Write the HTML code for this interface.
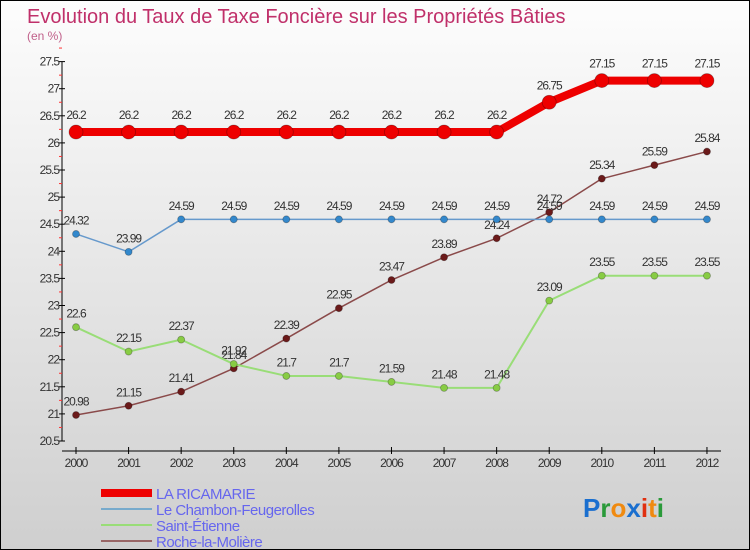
<!DOCTYPE html>
<html><head><meta charset="utf-8"><style>
body{margin:0}
#wrap{width:750px;height:550px;position:relative;box-sizing:border-box;border:1px solid #000;background:linear-gradient(#fdfdfd,#cfcfcf);font-family:"Liberation Sans",sans-serif;overflow:hidden}
svg{position:absolute;left:0;top:0}
</style></head><body>
<div id="wrap">
<svg id="s" width="750" height="550">
<text x="26" y="22" font-size="20" fill="#c0306a">Evolution du Taux de Taxe Foncière sur les Propriétés Bâties</text>
<text x="26" y="39" font-size="12" fill="#c0608a">(en %)</text>
</svg>
</div>
<script>
const years=[2000,2001,2002,2003,2004,2005,2006,2007,2008,2009,2010,2011,2012];
const ricamarie=[26.2,26.2,26.2,26.2,26.2,26.2,26.2,26.2,26.2,26.75,27.15,27.15,27.15];
const chambon=[24.32,23.99,24.59,24.59,24.59,24.59,24.59,24.59,24.59,24.59,24.59,24.59,24.59];
const etienne=[22.6,22.15,22.37,21.92,21.7,21.7,21.59,21.48,21.48,23.09,23.55,23.55,23.55];
const roche=[20.98,21.15,21.41,21.84,22.39,22.95,23.47,23.89,24.24,24.72,25.34,25.59,25.84];
const yTicks=[20.5,21,21.5,22,22.5,23,23.5,24,24.5,25,25.5,26,26.5,27,27.5];
const NS="http://www.w3.org/2000/svg",s=document.getElementById('s');
const X=i=>75+i*52.58, Y=v=>440-(v-20.5)*54.2;
function el(t,a,p){const e=document.createElementNS(NS,t);for(const k in a)e.setAttribute(k,a[k]);(p||s).appendChild(e);return e;}
const ax=el('g',{});


el('line',{x1:61,y1:Y(27.5),x2:61,y2:Y(20.5),stroke:'#000'},ax);
el('line',{x1:61,y1:450,x2:720,y2:450,stroke:'#000'},ax);
yTicks.forEach(v=>{el('line',{x1:58,x2:64,y1:Y(v),y2:Y(v),stroke:'#000'},ax);
 el('line',{x1:58,x2:61,y1:Y(v+0.25),y2:Y(v+0.25),stroke:'#f33'},ax);
 const t=el('text',{x:58,y:Y(v)+4,'text-anchor':'end','font-size':12,fill:'#333','letter-spacing':'-1'},ax);t.textContent=v;
 });
years.forEach((y,i)=>{el('line',{x1:X(i),x2:X(i),y1:446,y2:453,stroke:'#000'},ax);
 const t=el('text',{x:X(i),y:466,'text-anchor':'middle','font-size':12,fill:'#333','letter-spacing':'-1'},ax);t.textContent=y;
 });
function series(name,data,color,w,r,dot){
 const g=el('g',{});
 
 
 el('polyline',{points:data.map((v,i)=>X(i)+','+Y(v)).join(' '),fill:'none',stroke:color,'stroke-width':w,'stroke-linejoin':'round'},g);
 data.forEach((v,i)=>{el('circle',{cx:X(i),cy:Y(v),r:r,fill:dot,stroke:'rgba(0,0,0,0.3)','stroke-width':0.8},g);
  const t=el('text',{x:X(i),y:Y(v)-r-6,'text-anchor':'middle','font-size':12,fill:'#333','letter-spacing':'-1'},g);t.textContent=v;});
}
series('series-roche',roche,'#8a4a4a',1.5,3.5,'#6b1a1a');
series('series-saint-etienne',etienne,'#99dd77',2,3.5,'#88cc44');
series('series-chambon',chambon,'#6699cc',1.5,3.5,'#3388cc');
series('series-ricamarie',ricamarie,'#ee0000',8,7,'#ee0000');
const legend=[['LA RICAMARIE','#ee0000',8],['Le Chambon-Feugerolles','#77aacc',2],['Saint-Étienne','#99dd77',2],['Roche-la-Molière','#996666',2]];
legend.forEach((l,i)=>{const y=492+i*16;const g=el('g',{});
 
 el('line',{x1:100,x2:151,y1:y,y2:y,stroke:l[1],'stroke-width':l[2]},g);
 const t=el('text',{x:155,y:y+6,'font-size':15,fill:'#6666ee','letter-spacing':'-0.5'},g);t.textContent=l[0];});
const lg=el('text',{x:582,y:516,'font-size':26,'font-weight':'bold'});

[['P','#1a6fcf'],['r','#2a9a3a'],['o','#f08a10'],['x','#1a6fcf'],['i','#e03010'],['t','#f08a10'],['i','#2a9a3a']].forEach(c=>{const sp=el('tspan',{fill:c[1]},lg);sp.textContent=c[0];});
</script>
</body></html>
